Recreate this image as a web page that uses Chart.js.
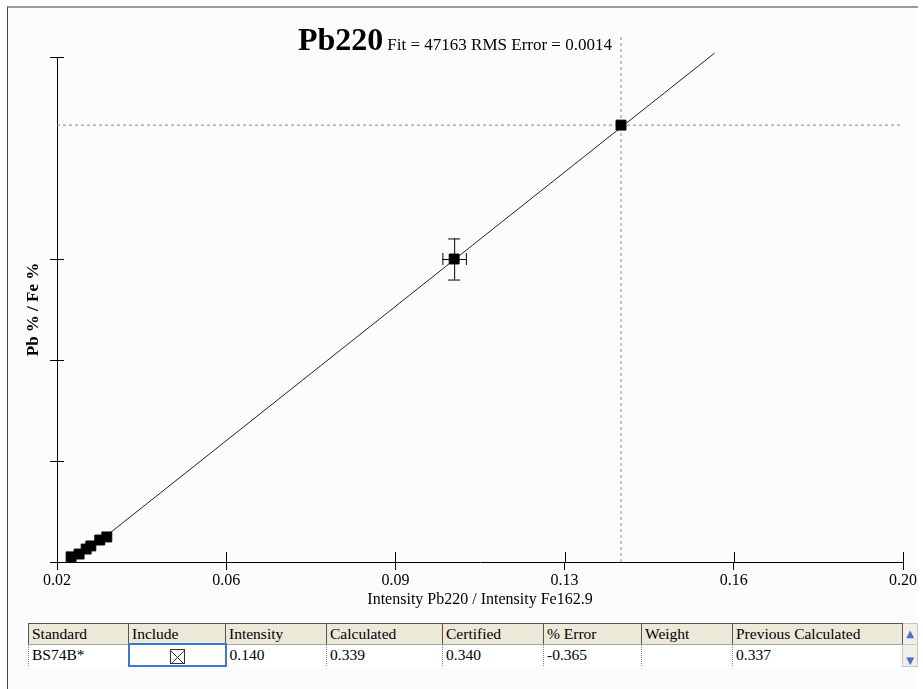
<!DOCTYPE html>
<html>
<head>
<meta charset="utf-8">
<script src="https://cdn.jsdelivr.net/npm/chart.js@4.4.1/dist/chart.umd.min.js"></script>
<style>
  body { margin: 0; background: #ffffff; width: 923px; height: 689px; overflow: hidden; position: relative; font-family: "Liberation Serif", serif; }
  #frame { position: absolute; left: 7px; top: 6px; width: 910px; height: 683px; border-top: 2px solid #9a9a9a; border-left: 1px solid #444; background: #fbfcfe; }
  #chart { position: absolute; left: 0; top: 0; }
  #title { position: absolute; left: 298px; top: 21px; white-space: nowrap; color: #000; }
  #title .big { font-weight: bold; font-size: 32px; }
  #title .small { font-size: 17px; margin-left: 4px; }
  #grid { position: absolute; left: 28px; top: 623px; border-collapse: collapse; table-layout: fixed; font-size: 15.5px; }
  #grid th { background: #ece9d8; font-weight: normal; text-align: left; height: 19px; padding: 0 0 0 3px; border: 1px solid #555; border-bottom: 1px solid #aca899; white-space: nowrap; overflow: hidden; }
  #grid td { background: #fff; height: 20px; padding: 0 0 0 3px; border-left: 1px dotted #888; white-space: nowrap; }
  #grid td.sel { border: 2px solid #3a78d4; text-align: center; padding: 0; }
  #grid td.sb, #grid th.sb { background: #f1f0ea; border: 1px solid #c8c6bd; padding: 0; text-align: center; color: #4a6fc8; font-size: 10px; font-family: "DejaVu Sans", sans-serif; }
  .box { display: inline-block; width: 13px; height: 13px; border: 1px solid #333; vertical-align: middle; background: #fff; }
</style>
</head>
<body>
<div id="frame"></div>
<canvas id="chart" width="923" height="615"></canvas>
<div id="title"><span class="big">Pb220</span><span class="small">Fit = 47163 RMS Error = 0.0014</span></div>
<table id="grid"></table>
<script>
// standards: intensity ratio vs certified concentration ratio
const intensity = [0.0230, 0.0247, 0.0262, 0.0272, 0.0291, 0.0306, 0.1045, 0.1400];
const certified = [0.0040, 0.0062, 0.0101, 0.0125, 0.0171, 0.0195, 0.2358, 0.3400];
const intensityErr = [0, 0, 0, 0, 0, 0, 0.0025, 0];
const certifiedErr = [0, 0, 0, 0, 0, 0, 0.0160, 0];
const selected = 7;

// fitted calibration line end points
const fitX = [0.0302, 0.1599];
const fitY = [0.0195, 0.3960];

const xTicks = [0.02, 0.056, 0.092, 0.128, 0.164, 0.20];
const yTicks = [0, 0.0786, 0.1572, 0.2358, 0.393];

const tableHeaders = ['Standard', 'Include', 'Intensity', 'Calculated', 'Certified', '% Error', 'Weight', 'Previous Calculated'];
const tableRow = ['BS74B*', '', '0.140', '0.339', '0.340', '-0.365', '', '0.337'];
const colWidths = [100, 97, 101, 116, 101, 98, 91, 170, 15];

// table under the chart
const grid = document.getElementById('grid');
let html = '<colgroup>' + colWidths.map(w => '<col style="width:' + w + 'px">').join('') + '</colgroup><tr>';
tableHeaders.forEach(h => { html += '<th>' + h + '</th>'; });
html += '<th class="sb">&#9650;</th></tr><tr>';
tableRow.forEach((v, i) => {
  if (i === 1) {
    html += '<td class="sel"><span class="box"><svg width="13" height="13"><line x1="0" y1="0" x2="13" y2="13" stroke="#333"/><line x1="13" y1="0" x2="0" y2="13" stroke="#333"/></svg></span></td>';
  } else {
    html += '<td>' + v + '</td>';
  }
});
html += '<td class="sb" style="vertical-align:bottom">&#9660;</td></tr>';
grid.innerHTML = html;

const points = intensity.map((x, i) => ({ x: x, y: certified[i] }));

// error bars and the inner half of the tick marks
const extras = {
  id: 'extras',
  afterDatasetsDraw(chart) {
    const ctx = chart.ctx;
    const xs = chart.scales.x, ys = chart.scales.y;
    ctx.save();
    ctx.strokeStyle = '#000';
    ctx.lineWidth = 1;
    intensity.forEach((x, i) => {
      const px = xs.getPixelForValue(x), py = ys.getPixelForValue(certified[i]);
      if (certifiedErr[i] > 0) {
        const t = ys.getPixelForValue(certified[i] + certifiedErr[i]);
        const b = ys.getPixelForValue(certified[i] - certifiedErr[i]);
        ctx.beginPath();
        ctx.moveTo(px + 0.5, t); ctx.lineTo(px + 0.5, b);
        ctx.moveTo(px - 6, t + 0.5); ctx.lineTo(px + 6, t + 0.5);
        ctx.moveTo(px - 6, b + 0.5); ctx.lineTo(px + 6, b + 0.5);
        ctx.stroke();
      }
      if (intensityErr[i] > 0) {
        const l = xs.getPixelForValue(x - intensityErr[i]);
        const r = xs.getPixelForValue(x + intensityErr[i]);
        ctx.beginPath();
        ctx.moveTo(l, py + 0.5); ctx.lineTo(r, py + 0.5);
        ctx.moveTo(l + 0.5, py - 6); ctx.lineTo(l + 0.5, py + 6);
        ctx.moveTo(r + 0.5, py - 6); ctx.lineTo(r + 0.5, py + 6);
        ctx.stroke();
      }
    });
    ctx.beginPath();
    xs.ticks.forEach(t => {
      const px = Math.round(xs.getPixelForValue(t.value)) + 0.5;
      ctx.moveTo(px, ys.bottom); ctx.lineTo(px, ys.bottom - 10);
    });
    ys.ticks.forEach(t => {
      const py = Math.round(ys.getPixelForValue(t.value)) + 0.5;
      ctx.moveTo(xs.left, py); ctx.lineTo(xs.left + 7, py);
    });
    ctx.stroke();
    ctx.restore();
  }
};

new Chart(document.getElementById('chart'), {
  type: 'scatter',
  data: {
    datasets: [{
      data: points,
      pointStyle: 'rect',
      pointRadius: 7,
      backgroundColor: '#000',
      borderColor: '#000',
      borderWidth: 1
    }, {
      data: fitX.map((x, i) => ({ x: x, y: fitY[i] })),
      showLine: true,
      pointRadius: 0,
      borderColor: '#222',
      borderWidth: 1,
      clip: false
    }, {
      data: [{ x: intensity[selected], y: 0 }, { x: intensity[selected], y: 0.41 }],
      showLine: true,
      pointRadius: 0,
      borderColor: '#8a8a8a',
      borderWidth: 1,
      borderDash: [3, 3],
      clip: false
    }, {
      data: [{ x: xTicks[0], y: certified[selected] }, { x: xTicks[xTicks.length - 1], y: certified[selected] }],
      showLine: true,
      pointRadius: 0,
      borderColor: '#8a8a8a',
      borderWidth: 1,
      borderDash: [3, 3]
    }]
  },
  options: {
    responsive: false,
    animation: false,
    layout: { padding: { top: 57, right: 20, bottom: 6, left: 0 } },
    plugins: { legend: { display: false }, tooltip: { enabled: false } },
    scales: {
      x: {
        type: 'linear',
        min: 0.02,
        max: 0.20,
        afterBuildTicks: s => { s.ticks = xTicks.map(v => ({ value: v })); },
        afterFit: s => { s.height = 47; },
        border: { display: true, color: '#000', width: 1 },
        grid: { display: true, drawOnChartArea: false, drawTicks: true, tickLength: 8, color: '#000' },
        ticks: {
          padding: 1,
          color: '#000',
          font: { family: 'Liberation Serif', size: 16 },
          callback: v => Number(v).toFixed(2)
        },
        title: {
          display: true,
          text: 'Intensity Pb220 / Intensity Fe162.9',
          color: '#000',
          font: { family: 'Liberation Serif', size: 16 },
          padding: 0
        }
      },
      y: {
        type: 'linear',
        min: 0,
        max: 0.393,
        afterBuildTicks: s => { s.ticks = yTicks.map(v => ({ value: v })); },
        afterFit: s => { s.width = 57; },
        border: { display: true, color: '#000', width: 1 },
        grid: { display: true, drawOnChartArea: false, drawTicks: true, tickLength: 7, color: '#000' },
        ticks: { display: false },
        title: {
          display: true,
          text: 'Pb % / Fe %',
          color: '#000',
          font: { family: 'Liberation Serif', size: 17, weight: 'bold' },
          padding: { top: 23, bottom: 0 }
        }
      }
    }
  },
  plugins: [extras]
});
</script>
</body>
</html>
